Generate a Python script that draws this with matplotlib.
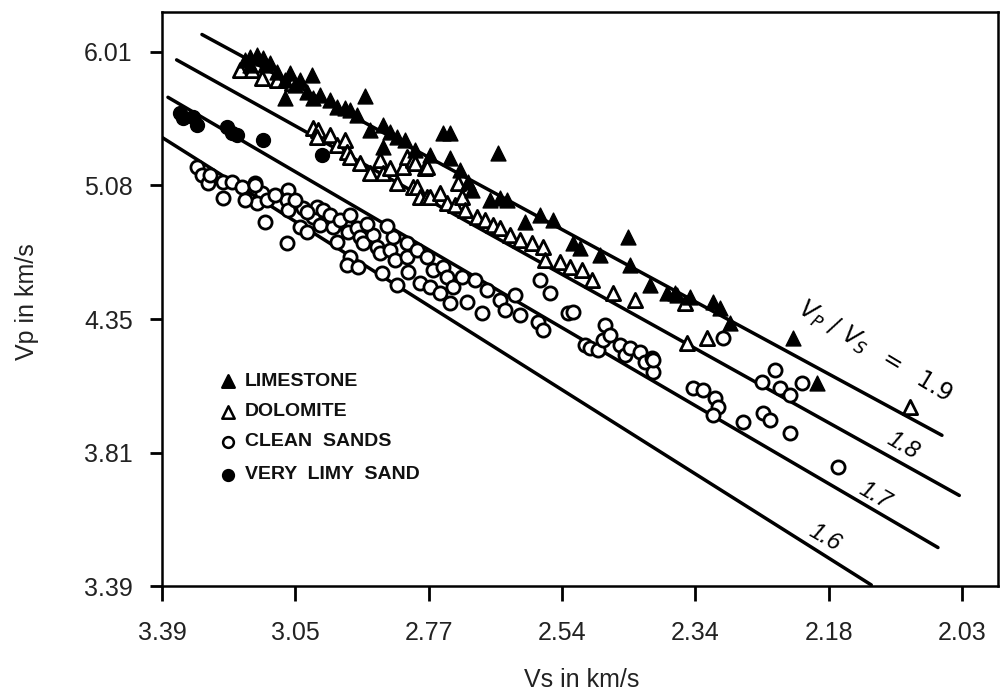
import matplotlib
matplotlib.use("Agg")
from matplotlib import pyplot as plt

plt.rcParams['font.family'] = ['Liberation Sans', 'DejaVu Sans']

# transit times in us/ft (x: shear, y: compressional), labelled as velocities in km/s
x_ticks = [90, 100, 110, 120, 130, 140, 150]
x_tick_labels = ['3.39', '3.05', '2.77', '2.54', '2.34', '2.18', '2.03']
y_ticks = [50, 60, 70, 80, 90]
y_tick_labels = ['6.01', '5.08', '4.35', '3.81', '3.39']

limestone_dts = [96.6, 97.13, 97.58, 97.73, 96.6, 96.23, 98.1, 98.63, 99.6, 101.25,
                 99.23, 100.88, 101.33, 102.6, 103.13, 104.1, 104.63, 105.23, 105.6, 106.58,
                 107.1, 106.58, 107.63, 111.08, 111.6, 111.6, 115.2, 112.95, 113.25, 114.6,
                 115.35, 115.88, 117.23, 119.33, 120.83, 121.35, 124.95, 125.1, 127.88, 128.48,
                 128.63, 131.33, 131.85, 132.6, 137.33, 139.13, 99.23, 100.35, 99.98, 101.85,
                 103.73, 108.23, 108.98, 110.1, 112.35, 118.35, 122.85, 126.6, 129.6]
limestone_dtp = [50.37, 50.22, 50.45, 50.97, 50.97, 50.6, 50.82, 51.5, 51.57, 51.72,
                 53.45, 53.0, 53.45, 53.6, 54.12, 54.34, 54.72, 53.3, 55.84, 55.47,
                 55.99, 57.12, 56.37, 56.07, 56.07, 57.94, 57.56, 59.74, 60.34, 61.08,
                 60.94, 61.08, 62.73, 62.58, 64.31, 64.68, 63.86, 65.95, 68.05, 68.05,
                 68.2, 68.73, 69.17, 70.3, 71.42, 74.79, 52.1, 52.1, 52.47, 53.22,
                 54.19, 56.59, 57.34, 57.71, 58.84, 62.21, 65.2, 67.45, 68.35]

dolomite_dts = [95.85, 96.75, 97.5, 98.63, 99.75, 101.33, 101.7, 101.63, 102.6, 103.13,
                103.73, 103.88, 104.1, 104.85, 105.6, 106.35, 106.58, 107.1, 107.63, 108.08,
                108.38, 108.83, 108.98, 109.73, 109.88, 108.83, 109.13, 109.35, 109.88, 110.1,
                110.85, 111.38, 111.98, 112.2, 112.5, 112.73, 113.63, 114.23, 114.83, 115.35,
                116.1, 116.85, 117.75, 118.58, 118.73, 119.85, 120.6, 121.5, 122.25, 123.83,
                125.48, 129.23, 129.38, 130.88, 146.1]
dolomite_dtp = [51.35, 51.35, 51.95, 52.1, 52.32, 55.69, 55.84, 56.37, 56.22, 56.97,
                56.59, 57.49, 57.86, 58.31, 59.06, 58.09, 59.06, 58.69, 59.81, 58.61,
                57.86, 58.09, 58.31, 58.69, 58.61, 60.11, 60.11, 60.86, 60.86, 60.86,
                60.56, 61.31, 61.46, 59.81, 60.86, 61.83, 62.36, 62.58, 62.96, 63.18,
                63.71, 64.08, 64.31, 64.61, 65.58, 65.73, 66.1, 66.33, 67.08, 68.05,
                68.58, 68.8, 71.8, 71.42, 76.59]

sand_dts = [92.63, 93.0, 93.45, 94.58, 95.25, 96.0, 94.58, 96.98, 97.5, 97.13,
            97.88, 97.73, 99.45, 99.38, 99.45, 99.38, 100.35, 100.88, 100.58, 101.33,
            101.63, 102.08, 101.85, 102.83, 103.13, 103.88, 103.95, 104.63, 104.85, 104.1,
            103.88, 104.7, 105.08, 105.83, 106.13, 106.35, 106.5, 107.1, 107.33, 107.48,
            108.38, 108.38, 108.45, 109.13, 107.63, 109.35, 109.88, 110.33, 110.1, 111.08,
            111.38, 110.85, 111.83, 111.6, 112.5, 112.88, 113.48, 114.0, 114.38, 115.35,
            115.73, 116.48, 116.85, 118.35, 119.1, 118.2, 118.58, 120.45, 120.83, 121.73,
            122.1, 122.7, 123.08, 123.23, 123.6, 124.35, 124.73, 125.1, 125.85, 126.23,
            126.75, 126.83, 126.83, 129.83, 130.58, 131.48, 131.7, 131.33, 133.58, 135.08,
            135.6, 137.1, 140.7, 136.0, 135.0, 136.35, 137.1, 138.0, 132.08, 102.6,
            103.35, 104.1, 99.98, 98.48, 96.23, 96.98, 93.6, 100.9, 105.4, 106.9]
sand_dtp = [58.61, 59.21, 59.81, 59.74, 59.74, 60.11, 60.94, 59.81, 60.56, 61.31,
            61.08, 62.73, 60.34, 61.08, 61.83, 64.31, 63.11, 63.48, 61.68, 62.36,
            61.61, 61.83, 62.96, 63.11, 64.23, 63.11, 63.48, 63.18, 63.86, 65.35,
            65.95, 66.1, 64.31, 63.71, 64.61, 65.05, 66.55, 64.83, 63.86, 65.58,
            64.31, 65.35, 66.48, 64.83, 67.45, 67.3, 65.35, 66.33, 67.6, 66.1,
            66.85, 68.05, 67.6, 68.8, 66.85, 68.73, 67.08, 69.55, 67.83, 68.58,
            69.32, 68.2, 69.7, 67.08, 68.05, 70.22, 70.82, 69.55, 69.47, 71.95,
            72.17, 72.32, 71.57, 70.45, 71.2, 71.95, 72.69, 72.17, 72.47, 73.22,
            72.92, 73.97, 73.07, 75.17, 75.32, 75.92, 76.59, 77.19, 77.71, 77.04,
            77.56, 78.54, 81.08, 73.82, 74.72, 75.17, 75.69, 74.79, 71.42, 62.21,
            62.58, 62.21, 61.08, 60.71, 61.08, 60.0, 59.21, 62.0, 62.9, 63.0]

limy_dts = [91.35, 91.58, 92.33, 92.63, 94.88, 95.25, 95.63, 97.58, 102.0]
limy_dtp = [54.57, 54.94, 54.87, 55.47, 55.62, 56.07, 56.22, 56.59, 57.71]

# constant Vp/Vs lines, end points
ratio_labels = ['1.9', '1.8', '1.7', '1.6']
ratio_dts = [(93.0, 148.5), (91.1, 149.8), (90.45, 148.2), (90.0, 143.2)]
ratio_dtp = [(48.7, 78.7), (50.6, 83.2), (53.4, 87.1), (56.4, 89.9)]
label_dts = [143.45, 145.55, 143.45, 139.7]
label_dtp = [72.47, 79.44, 83.18, 86.33]

legend_names = ['LIMESTONE', 'DOLOMITE', 'CLEAN  SANDS', 'VERY  LIMY  SAND']

fig = plt.figure(figsize=(10.06, 6.93), dpi=100)
ax = fig.add_axes([0.161, 0.154, 0.831, 0.829])

for xs, ys in zip(ratio_dts, ratio_dtp):
    ax.plot(xs, ys, color='black', lw=2.5, solid_capstyle='round', zorder=2)

ax.scatter(sand_dts, sand_dtp, s=90, facecolors='white', edgecolors='black', linewidths=2.0, zorder=3)
ax.scatter(dolomite_dts, dolomite_dtp, s=105, marker='^', facecolors='white', edgecolors='black',
           linewidths=2.0, zorder=3)
ax.scatter(limestone_dts, limestone_dtp, s=115, marker='^', color='black', zorder=4)
ax.scatter(limy_dts, limy_dtp, s=100, color='black', zorder=4)

# line labels
for i, lab in enumerate(ratio_labels):
    if i == 0:
        txt = r'$V_P\ /\ V_S\ \ =\ \ 1.9$'
        ax.text(label_dts[i], label_dtp[i], txt, rotation=-31, fontsize=17, style='italic',
                ha='center', va='center', rotation_mode='anchor')
    else:
        ax.text(label_dts[i], label_dtp[i], lab, rotation=-30, fontsize=17, style='italic',
                ha='center', va='center', rotation_mode='anchor')

# hand-made legend
leg_markers = [('^', 'black'), ('^', 'white'), ('o', 'white'), ('o', 'black')]
leg_y = [0.357, 0.304, 0.252, 0.194]
for (m, fc), name, yy in zip(leg_markers, legend_names, leg_y):
    ax.scatter([0.079], [yy], s=80 if m == '^' else 60, marker=m, facecolors=fc,
               edgecolors='black', linewidths=1.8, transform=ax.transAxes, zorder=5)
    ax.text(0.099, yy, name, transform=ax.transAxes, fontsize=14, fontweight='bold',
            va='center', ha='left', color='#111111')

ax.set_xlim(90, 152.7)
ax.set_ylim(90, 47.0)
ax.set_xticks(x_ticks)
ax.set_xticklabels(x_tick_labels)
ax.set_yticks(y_ticks)
ax.set_yticklabels(y_tick_labels)
ax.tick_params(axis='x', direction='out', length=11, width=2, pad=14, labelsize=18, labelcolor='#222222')
ax.tick_params(axis='y', direction='out', length=9, width=2, pad=12, labelsize=18, labelcolor='#222222')
for sp in ax.spines.values():
    sp.set_linewidth(1.8)

fig.text(0.578, 0.019, 'Vs in km/s', fontsize=18, ha='center', va='center', color='#222222')
fig.text(0.027, 0.565, 'Vp in km/s', fontsize=18, ha='center', va='center', rotation=90, color='#222222')

plt.savefig('out.png', dpi=100)
